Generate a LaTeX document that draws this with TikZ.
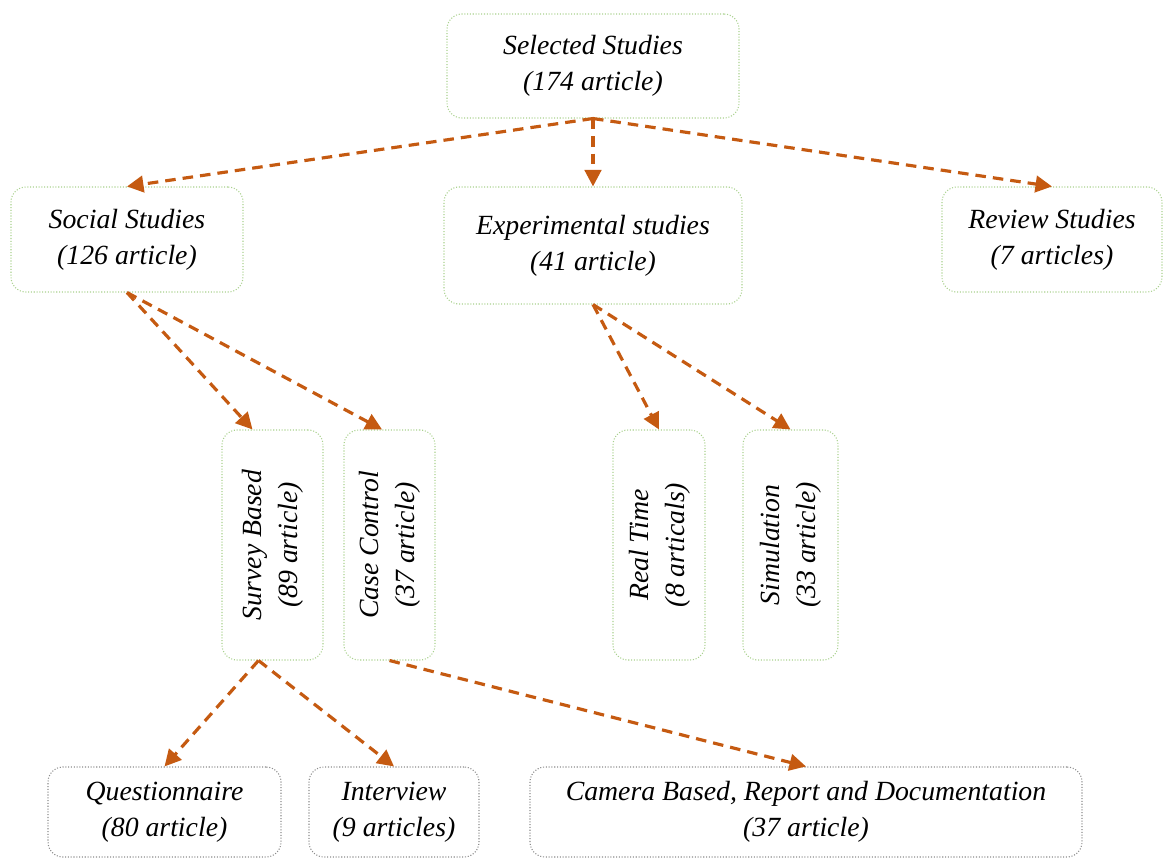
\documentclass[tikz,border=0pt]{standalone}
\usepackage{fontspec}
\setmainfont{Liberation Serif}
\usetikzlibrary{arrows.meta}

\definecolor{flowcolor}{HTML}{C55A11}
\definecolor{studygreen}{HTML}{A9D18E}
\definecolor{methodgrey}{HTML}{8C8C8C}

\tikzset{
    studybox/.style={draw=studygreen, densely dotted, line width=0.6pt, rounded corners=0.3cm,
        align=center, inner sep=0pt, font=\fontsize{15.8}{20.5}\selectfont\itshape},
    methodbox/.style={studybox, draw=methodgrey},
    flow/.style={draw=flowcolor, line width=1.8pt, dash pattern=on 6pt off 4pt,
        -{Triangle[length=0.33cm, width=0.33cm]}}
}
\newcommand{\uptext}[2]{\rotatebox{90}{\setlength{\tabcolsep}{0pt}\begin{tabular}{c}#1\\#2\end{tabular}}}

\begin{document}
\begin{tikzpicture}
        \useasboundingbox (0,0) rectangle (23.26,-17.18);
        \node[studybox, minimum width=5.84cm, minimum height=2.08cm] (sel)  at (11.86, -1.32)  {Selected Studies\\(174 article)};
        \node[studybox, minimum width=4.64cm, minimum height=2.10cm] (soc)  at (2.54, -4.79)   {Social Studies\\(126 article)};
        \node[studybox, minimum width=5.96cm, minimum height=2.34cm] (exp)  at (11.86, -4.91)  {Experimental studies\\(41 article)};
        \node[studybox, minimum width=4.40cm, minimum height=2.10cm] (rev)  at (21.04, -4.79)  {Review Studies\\(7 articles)};
        \node[studybox, minimum width=2.02cm, minimum height=4.60cm] (surv) at (5.45, -10.90)  {\uptext{Survey Based}{(89 article)}};
        \node[studybox, minimum width=1.82cm, minimum height=4.60cm] (case) at (7.79, -10.90)  {\uptext{Case Control}{(37 article)}};
        \node[studybox, minimum width=1.84cm, minimum height=4.60cm] (real) at (13.18, -10.90) {\uptext{Real Time}{(8 articals)}};
        \node[studybox, minimum width=1.90cm, minimum height=4.60cm] (sim)  at (15.81, -10.90) {\uptext{Simulation}{(33 article)}};
        \node[methodbox, minimum width=4.66cm, minimum height=1.80cm] (quest) at (3.29, -16.24)  {Questionnaire\\(80 article)};
        \node[methodbox, minimum width=3.40cm, minimum height=1.80cm] (inter) at (7.88, -16.24)  {Interview\\(9 articles)};
        \node[methodbox, minimum width=11.04cm, minimum height=1.80cm] (cam) at (16.12, -16.24) {Camera Based, Report and Documentation\\(37 article)};

        \draw[flow] (sel.south) -- (soc.north);
        \draw[flow] (sel.south) -- (exp.north);
        \draw[flow] (sel.south) -- (rev.north);
        \draw[flow] (soc.south) -- ([xshift=-0.4cm]surv.north);
        \draw[flow] (soc.south) -- ([xshift=-0.15cm]case.north);
        \draw[flow] (exp.south) -- (real.north);
        \draw[flow] (exp.south) -- (sim.north);
        \draw[flow] ([xshift=-0.28cm]surv.south) -- (quest.north);
        \draw[flow] ([xshift=-0.28cm]surv.south) -- (inter.north);
        \draw[flow] (case.south) -- (cam.north);
\end{tikzpicture}
\end{document}
